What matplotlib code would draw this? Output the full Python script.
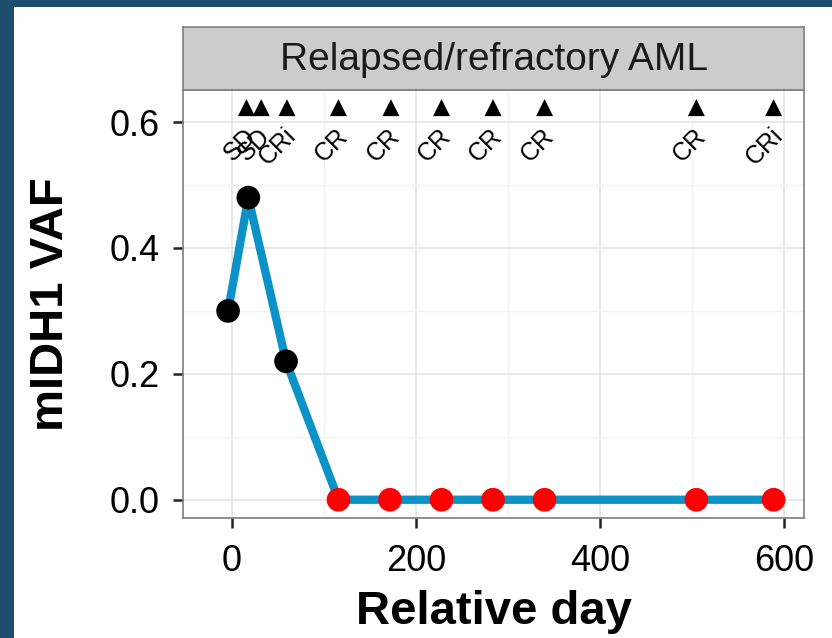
import numpy as np
import matplotlib
matplotlib.use("Agg")
import matplotlib.pyplot as plt
from matplotlib.patches import Rectangle

plt.rcParams['font.family'] = ['Liberation Sans', 'DejaVu Sans']

# data
days = [-4, 18, 59, 116, 172, 228, 284, 340, 505, 589]
vaf = [0.30, 0.48, 0.22, 0.0, 0.0, 0.0, 0.0, 0.0, 0.0, 0.0]
resp_days = [16, 32, 60, 116, 173, 228, 284, 340, 505, 589]
resp_labels = ['SD', 'SD', 'CRi', 'CR', 'CR', 'CR', 'CR', 'CR', 'CR', 'CRi']
resp_y = 0.623
title = "Relapsed/refractory AML"

W, H = 832, 638
fig = plt.figure(figsize=(W/100, H/100), dpi=100)
fig.patch.set_facecolor('#1d4e6e')
fig.add_artist(Rectangle((14/W, 0), 1, (H-7)/H, transform=fig.transFigure,
                         facecolor='white', edgecolor='none', zorder=-10))

left, right, top, bottom = 183/W, 804/W, 1-90/H, 1-518/H
ax = fig.add_axes([left, bottom, right-left, top-bottom])
strip = fig.add_axes([left, top, right-left, 63/H])

# strip
strip.set_facecolor('#cccccc')
strip.set_xticks([]); strip.set_yticks([])
for s in strip.spines.values():
    s.set_color('#7f7f7f'); s.set_linewidth(1.2)
strip.text(0.5, 0.47, title, ha='center', va='center', fontsize=28,
           color='#1a1a1a', transform=strip.transAxes)

# panel
ax.set_xlim(-53, 622)
ax.set_ylim(-0.029, 0.651)
ax.set_xticks([0, 200, 400, 600])
ax.set_xticks([100, 300, 500], minor=True)
ax.set_yticks([0.0, 0.2, 0.4, 0.6])
ax.set_yticks([0.1, 0.3, 0.5], minor=True)
ax.set_yticklabels(['0.0', '0.2', '0.4', '0.6'])
ax.grid(True, which='major', color='#e6e6e6', linewidth=1.3, zorder=0)
ax.grid(True, which='minor', color='#f2f2f2', linewidth=1.0, zorder=0)
ax.tick_params(which='minor', length=0)
ax.tick_params(which='major', length=7, width=1.8, color='#222222',
               labelsize=26, labelcolor='black')
ax.tick_params(axis='x', pad=12)
ax.tick_params(axis='y', pad=10)
for s in ax.spines.values():
    s.set_color('#7f7f7f'); s.set_linewidth(1.2)
ax.set_axisbelow(True)

ax.plot(days, vaf, color='#0b93c8', linewidth=6, zorder=2, solid_capstyle='round')
colors = ['black' if v > 0 else '#ff0000' for v in vaf]
ax.scatter(days, vaf, s=290, c=colors, zorder=3, edgecolors='none')

ax.scatter(resp_days, [resp_y]*len(resp_days), marker='^', s=150,
           color='black', zorder=3, edgecolors='none')
for d, lab in zip(resp_days, resp_labels):
    ax.text(d + 6, 0.584, lab, rotation=45, rotation_mode='anchor',
            ha='right', va='center', fontsize=18, color='black', zorder=3)

ax.set_xlabel('Relative day', fontsize=34, fontweight='bold', labelpad=8)
ax.set_ylabel('mIDH1 VAF', fontsize=34, fontweight='bold', labelpad=26)

fig.savefig('out.png', dpi=100, facecolor=fig.get_facecolor())
